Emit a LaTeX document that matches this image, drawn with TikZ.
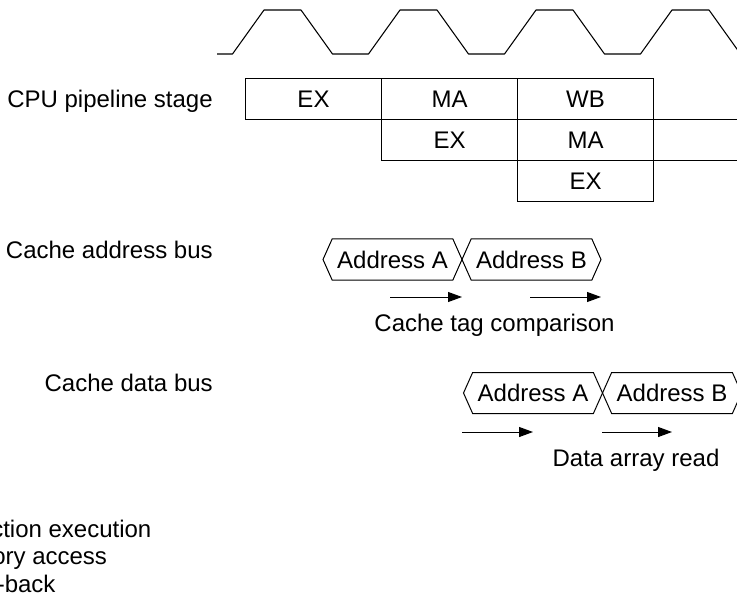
\documentclass[tikz,border=0pt]{standalone}
\usepackage{fontspec}
\setmainfont{Liberation Sans}
\usetikzlibrary{arrows.meta,positioning,shapes.symbols}
\tikzset{
  stagecell/.style={
    draw,
    line width=0.8pt,
    outer sep=0pt,
    inner sep=0pt,
    minimum width=102pt,
    minimum height=30.75pt
  },
  busword/.style={
    draw,
    line width=0.75pt,
    shape=signal,
    signal to=west and east,
    signal pointer angle=132,
    outer sep=0pt,
    inner sep=0pt,
    minimum width=104.25pt,
    minimum height=30.75pt
  },
  rowlabel/.style={
    anchor=base east,
    inner sep=0pt
  },
  caption/.style={
    anchor=base,
    inner sep=0pt
  },
  legendline/.style={
    anchor=base west,
    inner sep=0pt
  },
  flowarrow/.style={
    -{Triangle[length=10.5pt,width=7.5pt]},
    line width=0.75pt
  },
  clockline/.style={
    line width=0.8pt,
    line join=round
  }
}

\begin{document}
\begin{tikzpicture}[x=0.75pt, y=-0.75pt, font=\fontsize{18}{21}\selectfont]
  \useasboundingbox (0,0) rectangle (737,598);
  \clip (0,0) rectangle (737,598);
  \coordinate (rim) at (737,0);

  % clock
  \draw[clockline] (217,54) -- (232.5,54)
    foreach \k in {1,...,4} { -- ++(31.5,-44) -- ++(37,0) -- ++(31.5,44) -- ++(36,0) };

  % pipeline stages
  \node[rowlabel] (cpu) at (213,108) {CPU pipeline stage};
  \node[stagecell] (ex1) at (313.5,99) {EX};
  \node[stagecell, right=0pt of ex1] (ma1) {MA};
  \node[stagecell, right=0pt of ma1] (wb1) {WB};
  \node[stagecell, below=0pt of ma1] (ex2) {EX};
  \node[stagecell, right=0pt of ex2] (ma2) {MA};
  \node[stagecell, below=0pt of ma2] (ex3) {EX};
  \draw[line width=0.8pt] (wb1.south east) -- (wb1.south east -| rim);
  \draw[line width=0.8pt] (ma2.south east) -- (ma2.south east -| rim);

  % address bus
  \node[rowlabel] (adrbus) at (213,258) {Cache address bus};
  \node[busword] (adrA) at (392.5,259.5) {Address A};
  \node[busword] (adrB) at (531.5,259.5) {Address B};
  \coordinate (tagA) at (390,297);
  \coordinate (tagB) at (530,297);
  \draw[flowarrow] (tagA) -- (tagA -| adrA.east);
  \draw[flowarrow] (tagB) -- (tagB -| adrB.east);
  \node[caption] (tag) at (494.5,331) {Cache tag comparison};

  % data bus
  \node[rowlabel] (datbus) at (213,391) {Cache data bus};
  \node[busword] (datA) at (533,393) {Address A};
  \node[busword] (datB) at (672,393) {Address B};
  \coordinate (readA) at (462,432);
  \coordinate (readB) at (602,432);
  \draw[flowarrow] (readA) -- (readA -| datA.center);
  \draw[flowarrow] (readB) -- (readB -| datB.center);
  \node[caption] (read) at (636,466.5) {Data array read};

  % legend, cut at the left edge
  \node[legendline] (legex) at (-9,537) {ction execution};
  \node[legendline] (legma) at (-8,564.5) {ory access};
  \node[legendline] (legwb) at (-3.5,592) {-back};
\end{tikzpicture}
\end{document}
